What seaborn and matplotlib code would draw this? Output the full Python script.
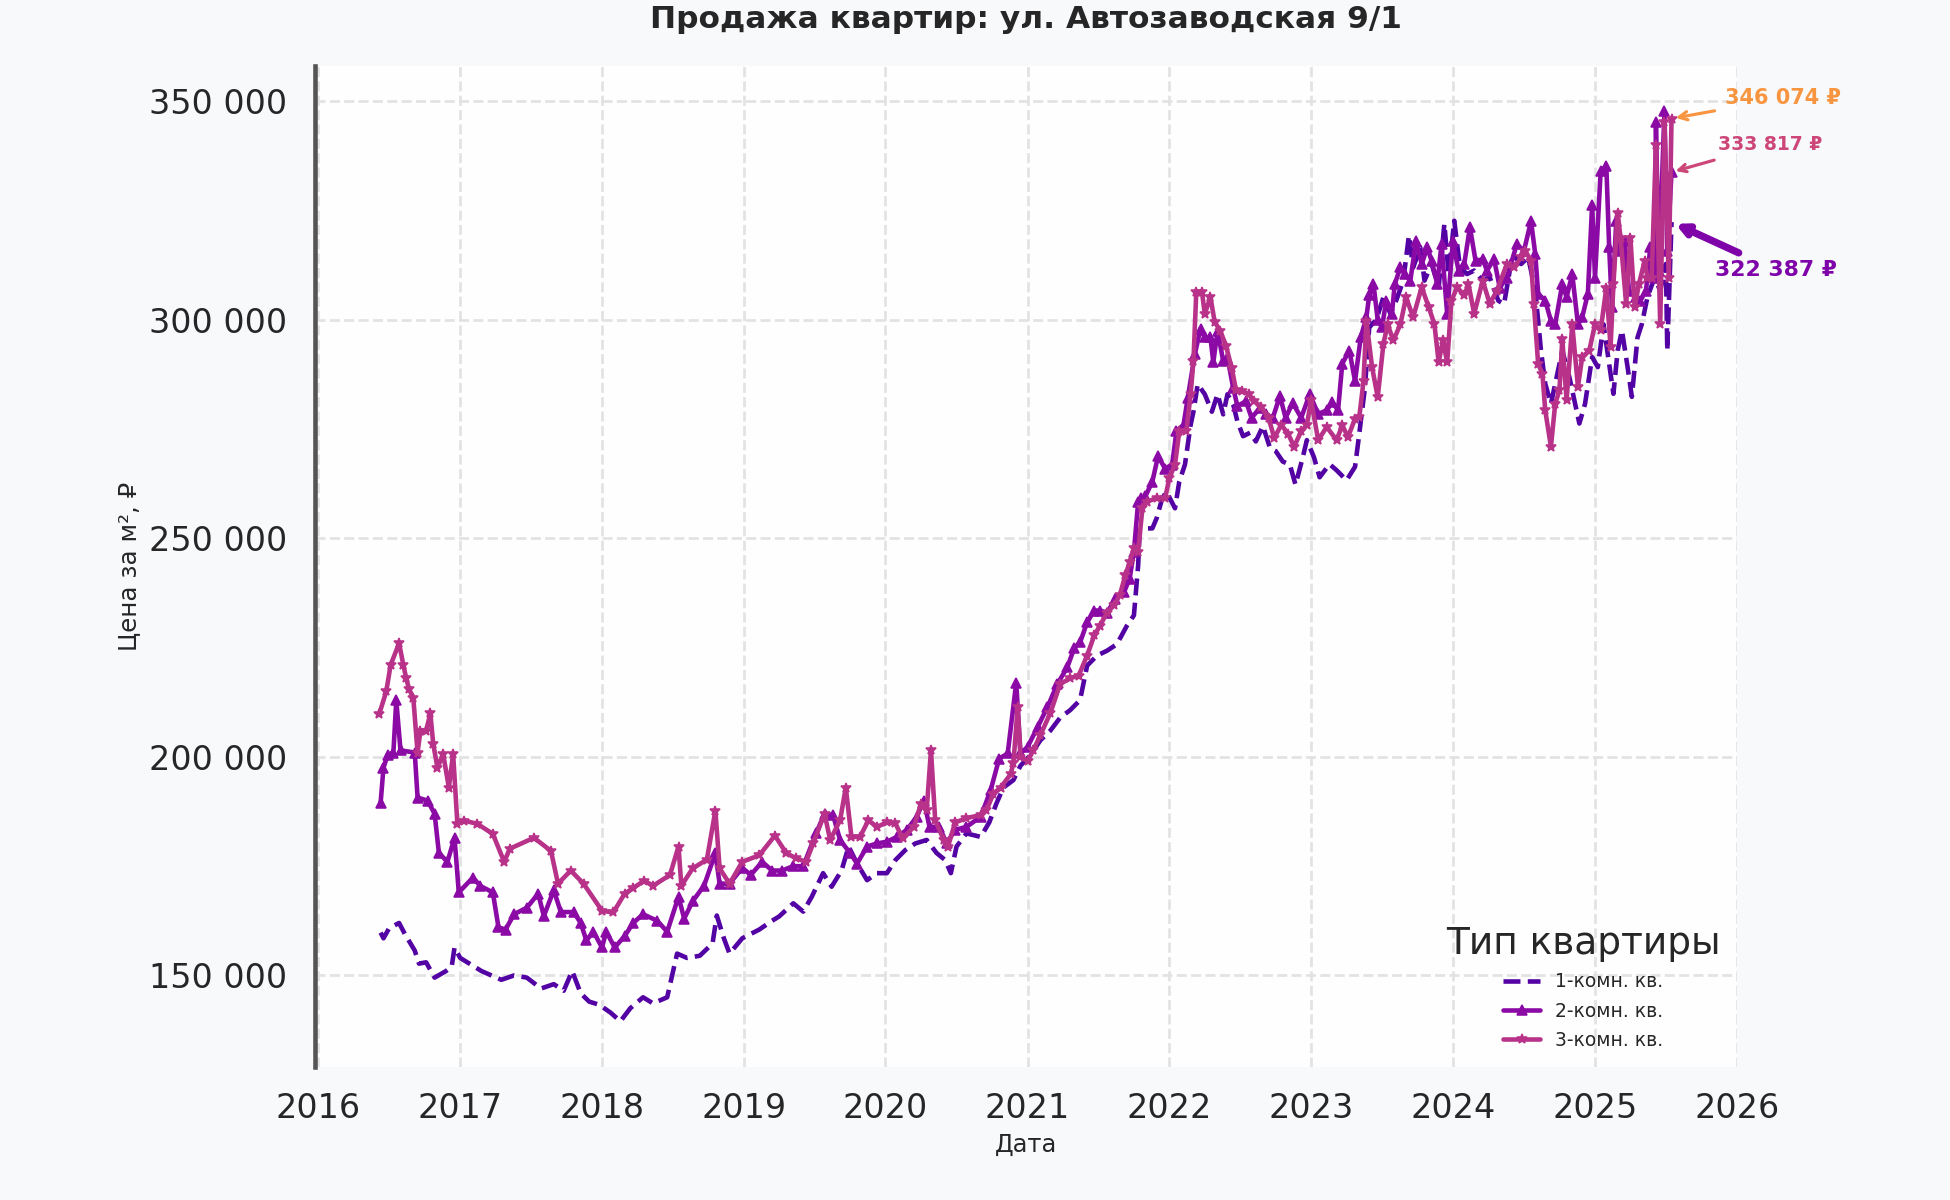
import numpy as np
import pandas as pd
import matplotlib
matplotlib.use("Agg")
import matplotlib.pyplot as plt
import matplotlib.dates as mdates
from matplotlib.ticker import FuncFormatter, MultipleLocator
import seaborn as sns

# ---------------- data (decimal year, price per m2 in thousand RUB) ----------------
one_t = [2016.44, 2016.46, 2016.50, 2016.57, 2016.61, 2016.68, 2016.71, 2016.76, 2016.82, 2016.90,
         2016.94, 2016.96, 2017.00, 2017.05, 2017.15, 2017.29, 2017.38, 2017.47, 2017.57, 2017.66,
         2017.73, 2017.79, 2017.85, 2017.91, 2017.98, 2018.06, 2018.13, 2018.20, 2018.29, 2018.36,
         2018.46, 2018.53, 2018.60, 2018.69, 2018.78, 2018.81, 2018.86, 2018.90, 2018.99, 2019.11,
         2019.20, 2019.25, 2019.35, 2019.42, 2019.48, 2019.56, 2019.62, 2019.69, 2019.74, 2019.80,
         2019.87, 2019.94, 2020.01, 2020.07, 2020.14, 2020.21, 2020.29, 2020.36, 2020.42, 2020.46,
         2020.50, 2020.57, 2020.67, 2020.73, 2020.78, 2020.83, 2020.90, 2020.95, 2021.02, 2021.09,
         2021.16, 2021.23, 2021.30, 2021.37, 2021.42, 2021.49, 2021.56, 2021.63, 2021.70, 2021.75,
         2021.78, 2021.79, 2021.84, 2021.88, 2021.91, 2021.95, 2021.98, 2022.04, 2022.07, 2022.11,
         2022.15, 2022.17, 2022.20, 2022.25, 2022.30, 2022.34, 2022.38, 2022.41, 2022.45, 2022.48,
         2022.52, 2022.57, 2022.61, 2022.66, 2022.71, 2022.75, 2022.80, 2022.85, 2022.89, 2022.94,
         2022.97, 2023.02, 2023.06, 2023.13, 2023.18, 2023.25, 2023.31, 2023.34, 2023.38, 2023.41,
         2023.46, 2023.51, 2023.56, 2023.60, 2023.65, 2023.69, 2023.72, 2023.77, 2023.80, 2023.85,
         2023.90, 2023.94, 2023.97, 2024.01, 2024.05, 2024.10, 2024.15, 2024.21, 2024.26, 2024.32,
         2024.36, 2024.42, 2024.48, 2024.53, 2024.58, 2024.62, 2024.65, 2024.69, 2024.72, 2024.77,
         2024.82, 2024.86, 2024.89, 2024.93, 2024.98, 2025.02, 2025.06, 2025.10, 2025.13, 2025.16,
         2025.19, 2025.23, 2025.26, 2025.30, 2025.33, 2025.37, 2025.42, 2025.46, 2025.50, 2025.51,
         2025.54]
one_v = [159.8, 158.5, 160.8, 162.0, 159.5, 155.7, 152.7, 153.0, 149.5, 151.0,
         152.0, 156.4, 154.0, 153.0, 151.0, 149.0, 150.0, 149.5, 147.0, 148.0,
         146.5, 151.0, 145.9, 144.0, 143.3, 141.5, 139.5, 142.5, 145.0, 143.6,
         145.0, 155.0, 154.0, 154.5, 157.3, 163.7, 158.5, 155.0, 158.5, 160.5,
         162.5, 163.5, 166.5, 164.6, 168.0, 173.4, 170.3, 174.0, 179.5, 175.6,
         171.8, 173.4, 173.4, 176.4, 178.7, 180.2, 181.0, 178.0, 176.4, 173.4,
         179.5, 182.5, 181.7, 185.0, 189.3, 193.0, 194.7, 198.0, 200.4, 203.8,
         206.0, 209.0, 210.7, 213.0, 220.9, 223.2, 224.3, 225.8, 230.0, 232.4,
         243.9, 251.5, 252.3, 252.3, 254.6, 259.2, 260.7, 256.9, 263.0, 266.9,
         276.0, 279.0, 285.3, 283.0, 279.0, 283.0, 278.4, 283.0, 280.7, 276.8,
         273.4, 274.2, 272.2, 275.7, 270.7, 270.0, 267.6, 266.9, 262.3, 268.4,
         272.5, 268.6, 264.0, 267.0, 265.6, 263.3, 266.4, 274.0, 284.6, 298.3,
         300.0, 305.2, 301.4, 304.4, 309.0, 319.3, 312.0, 316.6, 309.0, 312.8,
         307.5, 322.0, 310.5, 322.7, 312.0, 310.5, 311.3, 309.0, 309.7, 304.4,
         303.6, 315.0, 312.8, 314.3, 306.7, 293.0, 285.4, 280.8, 285.4, 293.0,
         286.9, 280.8, 276.3, 280.8, 291.5, 289.2, 299.0, 290.0, 283.1, 293.0,
         297.6, 289.2, 282.4, 296.0, 299.0, 305.2, 309.7, 306.7, 312.8, 293.0,
         322.387]

two_t = [2016.44, 2016.46, 2016.49, 2016.53, 2016.55, 2016.58, 2016.68, 2016.70, 2016.77, 2016.82,
         2016.85, 2016.91, 2016.96, 2016.99, 2017.09, 2017.14, 2017.23, 2017.27, 2017.32, 2017.38,
         2017.47, 2017.55, 2017.59, 2017.66, 2017.71, 2017.80, 2017.85, 2017.89, 2017.94, 2018.00,
         2018.03, 2018.09, 2018.16, 2018.22, 2018.29, 2018.39, 2018.46, 2018.54, 2018.58, 2018.64,
         2018.72, 2018.80, 2018.83, 2018.90, 2018.99, 2019.05, 2019.13, 2019.20, 2019.27, 2019.35,
         2019.42, 2019.51, 2019.57, 2019.63, 2019.68, 2019.75, 2019.80, 2019.87, 2019.94, 2020.01,
         2020.08, 2020.15, 2020.22, 2020.27, 2020.31, 2020.38, 2020.43, 2020.49, 2020.57, 2020.67,
         2020.74, 2020.80, 2020.86, 2020.92, 2020.95, 2021.00, 2021.07, 2021.14, 2021.21, 2021.28,
         2021.33, 2021.37, 2021.42, 2021.47, 2021.51, 2021.56, 2021.62, 2021.68, 2021.72, 2021.75,
         2021.78, 2021.80, 2021.83, 2021.88, 2021.92, 2021.97, 2022.02, 2022.05, 2022.10, 2022.13,
         2022.18, 2022.22, 2022.25, 2022.29, 2022.31, 2022.34, 2022.38, 2022.41, 2022.45, 2022.48,
         2022.54, 2022.58, 2022.64, 2022.68, 2022.73, 2022.78, 2022.82, 2022.87, 2022.93, 2022.99,
         2023.05, 2023.11, 2023.15, 2023.19, 2023.22, 2023.27, 2023.31, 2023.35, 2023.39, 2023.41,
         2023.44, 2023.47, 2023.50, 2023.53, 2023.57, 2023.59, 2023.63, 2023.66, 2023.70, 2023.74,
         2023.78, 2023.82, 2023.85, 2023.89, 2023.92, 2023.96, 2024.00, 2024.04, 2024.08, 2024.12,
         2024.16, 2024.21, 2024.24, 2024.29, 2024.33, 2024.38, 2024.45, 2024.50, 2024.55, 2024.58,
         2024.60, 2024.65, 2024.69, 2024.72, 2024.77, 2024.80, 2024.84, 2024.88, 2024.91, 2024.95,
         2024.98, 2025.00, 2025.04, 2025.08, 2025.10, 2025.12, 2025.15, 2025.17, 2025.21, 2025.24,
         2025.29, 2025.32, 2025.36, 2025.39, 2025.42, 2025.43, 2025.45, 2025.49, 2025.51, 2025.54]
two_v = [189.5, 197.5, 200.5, 201.0, 213.0, 201.5, 201.0, 190.7, 190.0, 187.0,
         178.0, 176.0, 181.5, 169.0, 172.4, 170.5, 169.0, 161.0, 160.5, 164.0,
         165.5, 168.7, 163.6, 169.5, 164.5, 164.5, 162.0, 158.0, 160.0, 156.4,
         160.0, 156.4, 159.0, 162.0, 164.0, 162.5, 160.0, 168.0, 163.0, 167.0,
         170.5, 178.0, 171.0, 171.0, 174.6, 173.0, 176.0, 174.0, 174.0, 175.0,
         175.0, 182.5, 187.0, 186.7, 181.0, 178.0, 175.6, 179.5, 180.2, 180.6,
         181.7, 183.3, 186.3, 190.0, 184.0, 184.0, 180.2, 183.3, 184.0, 186.3,
         192.4, 199.6, 200.8, 217.0, 200.8, 202.3, 206.8, 211.4, 216.7, 220.5,
         225.0, 226.2, 230.8, 233.5, 233.5, 233.0, 236.2, 237.7, 240.8, 247.0,
         258.4, 259.2, 259.6, 263.0, 268.8, 266.0, 266.9, 274.5, 276.0, 282.2,
         292.2, 298.0, 296.0, 296.0, 290.3, 297.5, 290.6, 291.4, 284.5, 280.3,
         281.4, 277.6, 279.9, 278.4, 277.6, 282.6, 277.6, 281.0, 277.6, 283.0,
         278.5, 279.3, 281.2, 279.3, 290.0, 293.0, 286.0, 296.0, 300.6, 305.6,
         308.2, 300.0, 298.3, 304.4, 301.4, 308.2, 312.0, 310.5, 309.0, 318.0,
         312.8, 316.6, 313.5, 308.2, 317.4, 301.4, 318.0, 311.3, 312.8, 321.2,
         313.5, 313.9, 311.3, 313.9, 307.4, 309.7, 317.3, 315.8, 322.6, 315.0,
         306.0, 304.4, 299.8, 299.0, 308.2, 305.2, 310.5, 299.0, 300.6, 306.0,
         326.4, 309.7, 334.0, 335.2, 316.6, 302.9, 322.6, 315.8, 318.0, 306.7,
         305.2, 304.4, 306.7, 316.6, 309.7, 345.4, 311.2, 347.7, 315.8, 333.817]

three_t = [2016.43, 2016.48, 2016.51, 2016.57, 2016.60, 2016.62, 2016.64, 2016.67, 2016.70, 2016.72,
           2016.76, 2016.79, 2016.81, 2016.84, 2016.88, 2016.92, 2016.95, 2016.98, 2017.03, 2017.12,
           2017.23, 2017.31, 2017.35, 2017.52, 2017.64, 2017.69, 2017.78, 2017.87, 2018.00, 2018.08,
           2018.16, 2018.22, 2018.30, 2018.36, 2018.48, 2018.54, 2018.56, 2018.64, 2018.74, 2018.80,
           2018.83, 2018.90, 2018.99, 2019.11, 2019.22, 2019.30, 2019.37, 2019.44, 2019.49, 2019.57,
           2019.61, 2019.68, 2019.72, 2019.76, 2019.82, 2019.88, 2019.94, 2020.01, 2020.07, 2020.12,
           2020.20, 2020.25, 2020.29, 2020.32, 2020.35, 2020.41, 2020.44, 2020.49, 2020.57, 2020.67,
           2020.71, 2020.76, 2020.81, 2020.88, 2020.90, 2020.93, 2020.95, 2021.00, 2021.04, 2021.09,
           2021.16, 2021.23, 2021.30, 2021.36, 2021.42, 2021.47, 2021.51, 2021.56, 2021.61, 2021.65,
           2021.69, 2021.72, 2021.75, 2021.78, 2021.81, 2021.84, 2021.91, 2021.97, 2022.00, 2022.04,
           2022.07, 2022.12, 2022.15, 2022.17, 2022.19, 2022.23, 2022.25, 2022.29, 2022.32, 2022.36,
           2022.40, 2022.44, 2022.47, 2022.51, 2022.56, 2022.60, 2022.65, 2022.70, 2022.74, 2022.79,
           2022.84, 2022.88, 2022.93, 2022.97, 2023.00, 2023.05, 2023.11, 2023.18, 2023.22, 2023.26,
           2023.31, 2023.34, 2023.37, 2023.39, 2023.43, 2023.47, 2023.51, 2023.54, 2023.58, 2023.63,
           2023.67, 2023.72, 2023.78, 2023.83, 2023.87, 2023.90, 2023.93, 2023.96, 2023.99, 2024.03,
           2024.08, 2024.11, 2024.15, 2024.21, 2024.26, 2024.31, 2024.38, 2024.43, 2024.48, 2024.51,
           2024.55, 2024.57, 2024.60, 2024.63, 2024.65, 2024.69, 2024.72, 2024.75, 2024.77, 2024.80,
           2024.84, 2024.88, 2024.91, 2024.96, 2025.00, 2025.04, 2025.08, 2025.11, 2025.13, 2025.16,
           2025.18, 2025.22, 2025.25, 2025.28, 2025.31, 2025.35, 2025.37, 2025.40, 2025.43, 2025.46,
           2025.49, 2025.52, 2025.54]
three_v = [209.8, 215.0, 221.0, 226.0, 221.0, 218.0, 215.5, 213.5, 201.0, 206.0,
           206.0, 210.0, 203.0, 197.5, 200.7, 193.0, 200.7, 184.7, 185.4, 184.7,
           182.4, 176.0, 179.0, 181.5, 178.5, 171.0, 174.0, 171.0, 164.8, 164.4,
           168.7, 170.0, 171.7, 170.5, 173.0, 179.5, 170.5, 174.5, 176.5, 187.7,
           174.5, 171.0, 176.0, 177.5, 182.0, 178.0, 176.8, 176.0, 180.2, 187.0,
           181.0, 185.5, 193.0, 181.7, 181.7, 185.5, 184.0, 185.0, 184.8, 181.4,
           184.0, 189.3, 187.8, 201.5, 185.5, 181.0, 179.5, 185.0, 186.0, 186.7,
           187.8, 191.6, 193.0, 196.0, 198.5, 211.4, 200.0, 199.0, 201.5, 205.0,
           210.0, 216.7, 218.0, 218.6, 223.2, 227.8, 230.0, 233.0, 234.7, 237.0,
           241.6, 244.6, 247.7, 247.0, 257.0, 258.4, 259.2, 259.2, 263.8, 266.9,
           274.5, 274.5, 283.0, 290.6, 306.4, 306.4, 301.4, 305.2, 299.5, 297.5,
           294.0, 289.0, 284.0, 283.7, 283.0, 281.4, 280.0, 277.6, 273.0, 276.0,
           273.8, 271.0, 274.5, 276.0, 281.6, 272.5, 275.5, 272.5, 275.9, 273.2,
           277.4, 277.8, 286.0, 299.8, 289.2, 282.3, 294.5, 299.0, 295.3, 299.0,
           305.2, 300.6, 307.5, 302.9, 299.0, 290.3, 295.3, 290.3, 304.4, 307.5,
           305.6, 308.2, 301.4, 309.0, 303.7, 306.7, 312.8, 312.0, 314.3, 315.8,
           313.5, 303.6, 290.0, 287.7, 279.3, 271.0, 280.8, 283.9, 295.7, 281.6,
           299.0, 284.7, 291.5, 293.0, 299.0, 297.6, 307.4, 293.8, 308.2, 324.5,
           318.8, 303.6, 318.8, 302.9, 308.2, 313.5, 309.7, 309.7, 340.1, 299.0,
           345.4, 309.7, 346.074]

labels = ["1-комн. кв.", "2-комн. кв.", "3-комн. кв."]
last_labels = ["322 387 ₽", "333 817 ₽", "346 074 ₽"]
title = "Продажа квартир: ул. Автозаводская 9/1"


def to_dates(years):
    out = []
    for y in years:
        yi = int(y)
        start = pd.Timestamp(yi, 1, 1)
        ndays = (pd.Timestamp(yi + 1, 1, 1) - start).days
        out.append(start + pd.Timedelta(days=(y - yi) * ndays))
    return pd.to_datetime(out)


series = [(to_dates(one_t), np.array(one_v) * 1000),
          (to_dates(two_t), np.array(two_v) * 1000),
          (to_dates(three_t), np.array(three_v) * 1000)]

# ---------------- style ----------------
sns.set_theme(style="whitegrid")
plt.rcParams['font.family'] = ['DejaVu Sans']
text_c = "#262626"

line_cols = sns.color_palette("plasma", 6)[:3]
ann_cols = sns.color_palette("plasma", 3)

fig = plt.figure(figsize=(13, 8), dpi=150, facecolor="#f8f9fb")
ax = fig.add_axes([0.1613, 0.111, 0.891 - 0.1613, 0.945 - 0.111])
ax.set_facecolor("#fefefe")

styles = [dict(linestyle="--", marker=None),
          dict(linestyle="-", marker="^", markersize=4.5),
          dict(linestyle="-", marker="*", markersize=5)]

for (d, v), lab, col, st in zip(series, labels, line_cols, styles):
    sns.lineplot(x=d, y=v, ax=ax, color=col, lw=2.2, label=lab,
                 estimator=None, sort=False, markeredgecolor=col, **st)

# grid & spines
ax.grid(True, linestyle="--", color="#e2e2e2", lw=1.3)
for s in ["top", "right", "bottom"]:
    ax.spines[s].set_visible(False)
ax.spines["left"].set_color("#555555")
ax.spines["left"].set_linewidth(2.2)

ax.set_xlim(to_dates([2015.975])[0], to_dates([2026.005])[0])
ax.xaxis.set_major_locator(mdates.YearLocator())
ax.xaxis.set_major_formatter(mdates.DateFormatter("%Y"))
ax.yaxis.set_major_locator(MultipleLocator(50000))
ax.yaxis.set_major_formatter(FuncFormatter(lambda v, p: f"{int(round(v)):,}".replace(",", " ")))
ax.tick_params(axis="both", length=0, labelsize=16, colors=text_c)
ax.tick_params(axis="x", pad=12)
ax.tick_params(axis="y", pad=13)

ax.set_xlabel("Дата", fontsize=11.5, color=text_c, labelpad=4)
ax.set_ylabel("Цена за м², ₽", fontsize=11.8, color=text_c, labelpad=4)
ax.set_title(title, fontsize=15, fontweight="bold", color=text_c, pad=18)

# annotations of the last values
ends = [(series[0][0][-1], series[0][1][-1]),
        (series[1][0][-1], series[1][1][-1]),
        (series[2][0][-1], series[2][1][-1])]
txt_pos = [(to_dates([2025.85])[0], 311400),
           (to_dates([2025.87])[0], 340200),
           (to_dates([2025.92])[0], 350700)]
ann_sizes = [10.5, 9, 10]
ann_lw = [3.5, 1.5, 1.5]
ann_colors = [ann_cols[0], ann_cols[1], ann_cols[2]]
for (xd, yv), lab, (tx, ty), fs, lw, c in zip(ends, last_labels, txt_pos, ann_sizes, ann_lw, ann_colors):
    ax.annotate(lab, xy=(xd, yv), xytext=(tx, ty), textcoords="data",
                ha="left", va="center", fontsize=fs, fontweight="bold", color=c,
                annotation_clip=False,
                arrowprops=dict(arrowstyle="->", color=c, lw=lw, shrinkA=3, shrinkB=2))

leg = ax.legend(title="Тип квартиры", loc="lower right", frameon=False,
                fontsize=9, title_fontsize=18, labelspacing=0.55)
for t in leg.get_texts():
    t.set_color(text_c)
leg.get_title().set_color(text_c)

fig.savefig("out.png", dpi=150, facecolor=fig.get_facecolor())
